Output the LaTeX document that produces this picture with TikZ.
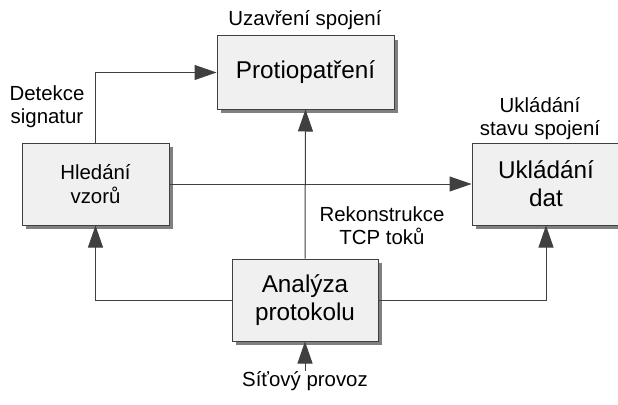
\documentclass[tikz,border=0pt]{standalone}
\usepackage{fontspec}
\setmainfont{Liberation Sans}
\usetikzlibrary{arrows.meta,shadows}
\definecolor{linec}{HTML}{404040}
\definecolor{boxfill}{HTML}{F0F0F0}
\definecolor{shadowc}{HTML}{808080}
\begin{document}
\begin{tikzpicture}[x=1pt,y=-1pt,
  blk/.style={draw=linec,line width=1pt,fill=boxfill,align=center,inner sep=0pt,
    drop shadow={shadow xshift=4pt,shadow yshift=-4pt,fill=shadowc,opacity=1}},
  big/.style={font=\fontsize{24.3}{28}\selectfont},
  small/.style={font=\fontsize{20.4}{24}\selectfont},
  lbl/.style={align=center,inner sep=0pt,font=\fontsize{20.4}{23}\selectfont},
  arr/.style={draw=linec,line width=1pt,-{Triangle[length=22pt,width=15pt]}}]
\clip (0,0) rectangle (618,404);
\fill[white] (0,0) rectangle (618,404);
\node[blk,big,minimum width=177pt,minimum height=73pt] (prot) at (305.5,72.5) {Protiopatření};
\node[blk,small,minimum width=147pt,minimum height=82pt] (hled) at (95.5,184) {Hledání\\vzorů};
\node[blk,big,minimum width=146pt,minimum height=82pt] (anal) at (305,300) {Analýza\\protokolu};
\node[blk,big,minimum width=148pt,minimum height=82pt] (ukl) at (546,184) {Ukládání\\dat};
\node[lbl] (uzav) at (305,20) {Uzavření spojení};
\node[lbl] (det) at (47,107) {Detekce\\signatur};
\node[lbl] (stav) at (540,119) {Ukládání\\stavu spojení};
\node[lbl] (rek) at (382,226) {Rekonstrukce\\TCP toků};
\node[lbl,anchor=north] (net) at (305,371) {Síťový provoz};
\draw[arr] (hled.north) |- (prot.west);
\draw[arr] (hled.east) -- (ukl.west);
\draw[arr] (anal.north) -- (prot.south);
\draw[arr] (anal.west) -| (hled.south);
\draw[arr] (anal.east) -| (ukl.south);
\draw[arr] (net.north) -- (anal.south);
\end{tikzpicture}
\end{document}
